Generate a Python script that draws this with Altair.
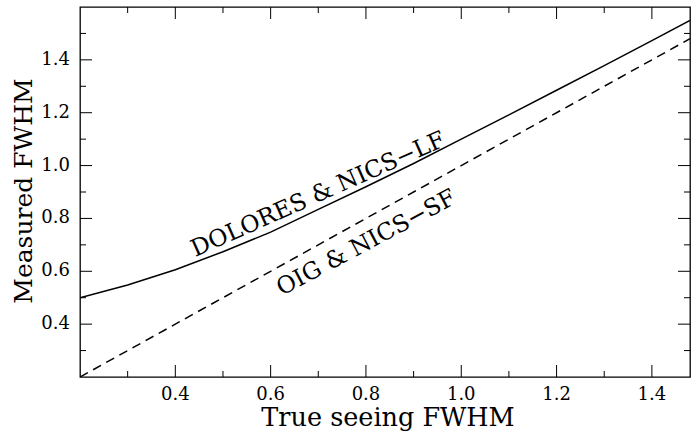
import altair as alt
import pandas as pd

# ---- data ----
true_fwhm = [0.20, 0.30, 0.40, 0.50, 0.60, 0.70, 0.80, 0.90, 1.00, 1.10, 1.20, 1.30, 1.40, 1.48]
dolores_nics_lf = [0.50, 0.548, 0.606, 0.674, 0.748, 0.834, 0.920, 1.008, 1.100, 1.192, 1.285, 1.378, 1.473, 1.549]
oig_true = [0.20, 1.48]
oig_nics_sf = [0.20, 1.48]

label_text = ["DOLORES & NICS\u2212LF", "OIG & NICS\u2212SF"]
label_x = [0.700, 0.801]
label_y = [0.890, 0.707]
label_angle = [336, 332]

x_title = ["True seeing FWHM"]
y_title = ["Measured FWHM"]

x_major = [0.4, 0.6, 0.8, 1.0, 1.2, 1.4]
x_minor = [0.3, 0.5, 0.7, 0.9, 1.1, 1.3]
y_major = [0.4, 0.6, 0.8, 1.0, 1.2, 1.4]
y_minor = [0.3, 0.5, 0.7, 0.9, 1.1, 1.3, 1.5]

X_DOMAIN = [0.2, 1.48]
Y_DOMAIN = [0.2, 1.6]
W, H = 610, 370
FONT = "DejaVu Serif"
MAJ, MIN = 12, 6  # tick lengths in pixels

solid_df = pd.DataFrame({"x": true_fwhm, "y": dolores_nics_lf})
dash_df = pd.DataFrame({"x": oig_true, "y": oig_nics_sf})
text_df = pd.DataFrame({"t": label_text, "x": label_x, "y": label_y, "a": label_angle})

xs = alt.Scale(domain=X_DOMAIN, nice=False, zero=False)
ys = alt.Scale(domain=Y_DOMAIN, nice=False, zero=False)

solid = alt.Chart(solid_df).mark_line(color="black", strokeWidth=1.5, clip=True).encode(
    x=alt.X("x:Q", scale=xs, axis=None),
    y=alt.Y("y:Q", scale=ys, axis=None),
)

dashed = alt.Chart(dash_df).mark_line(color="black", strokeWidth=1.5, strokeDash=[9, 6], clip=True).encode(
    x=alt.X("x:Q", scale=xs, axis=None),
    y=alt.Y("y:Q", scale=ys, axis=None),
)

texts = alt.Chart(text_df).mark_text(font=FONT, fontSize=23.5, color="black").encode(
    x=alt.X("x:Q", scale=xs, axis=None),
    y=alt.Y("y:Q", scale=ys, axis=None),
    text="t:N",
    angle=alt.Angle("a:Q", scale=None),
)

# ---- inward frame ticks as short line segments, built from the tick arrays ----
px_y = (Y_DOMAIN[1] - Y_DOMAIN[0]) / H   # data units per pixel (y)
px_x = (X_DOMAIN[1] - X_DOMAIN[0]) / W   # data units per pixel (x)

rows = []
for vals, ln in ((x_major, MAJ), (x_minor, MIN)):
    for v in vals:
        for side, y0, y1 in (("b", Y_DOMAIN[0], Y_DOMAIN[0] + ln * px_y),
                             ("t", Y_DOMAIN[1], Y_DOMAIN[1] - ln * px_y)):
            tid = f"x{side}{v}"
            rows.append({"id": tid, "k": 0, "px": v, "py": y0})
            rows.append({"id": tid, "k": 1, "px": v, "py": y1})
for vals, ln in ((y_major, MAJ), (y_minor, MIN)):
    for v in vals:
        for side, x0, x1 in (("l", X_DOMAIN[0], X_DOMAIN[0] + ln * px_x),
                             ("r", X_DOMAIN[1], X_DOMAIN[1] - ln * px_x)):
            tid = f"y{side}{v}"
            rows.append({"id": tid, "k": 0, "px": x0, "py": v})
            rows.append({"id": tid, "k": 1, "px": x1, "py": v})
tick_df = pd.DataFrame(rows)

ticks = alt.Chart(tick_df).mark_line(color="black", strokeWidth=1).encode(
    x=alt.X("px:Q", scale=xs, axis=None),
    y=alt.Y("py:Q", scale=ys, axis=None),
    detail="id:N",
    order=alt.Order("k:Q"),
)

# Tick labels and axis titles as text placed through the scales
x_labels = alt.Chart(pd.DataFrame({"lx": x_major})).mark_text(
    font=FONT, fontSize=18, color="black", baseline="middle", align="center"
).encode(
    x=alt.X("lx:Q", scale=xs, axis=None),
    y=alt.value(H + 18),
    text=alt.Text("lx:Q", format=".1f"),
)
y_labels = alt.Chart(pd.DataFrame({"ly": y_major})).mark_text(
    font=FONT, fontSize=18, color="black", baseline="middle", align="right"
).encode(
    y=alt.Y("ly:Q", scale=ys, axis=None),
    x=alt.value(-10),
    text=alt.Text("ly:Q", format=".1f"),
)
x_title_layer = alt.Chart(pd.DataFrame({"t": x_title})).mark_text(
    font=FONT, fontSize=25.5, color="black", baseline="middle", align="center"
).encode(
    x=alt.value(W / 2 + 3), y=alt.value(H + 41), text="t:N",
)
y_title_layer = alt.Chart(pd.DataFrame({"t": y_title})).mark_text(
    font=FONT, fontSize=25, color="black", baseline="middle", align="center", angle=270
).encode(
    x=alt.value(-56), y=alt.value(H / 2 - 1), text="t:N",
)

chart = alt.layer(
    solid, dashed, texts, ticks, x_labels, y_labels, x_title_layer, y_title_layer
).properties(
    width=W, height=H,
    autosize=alt.AutoSizeParams(type="none"),
    padding={"left": 80, "top": 7, "right": 1, "bottom": 58},
    background="white",
).configure_view(
    stroke="black", strokeWidth=1.3
).configure_axis(
    grid=False
)

chart.save("out.html", embed_options={"renderer": "svg", "actions": False})
